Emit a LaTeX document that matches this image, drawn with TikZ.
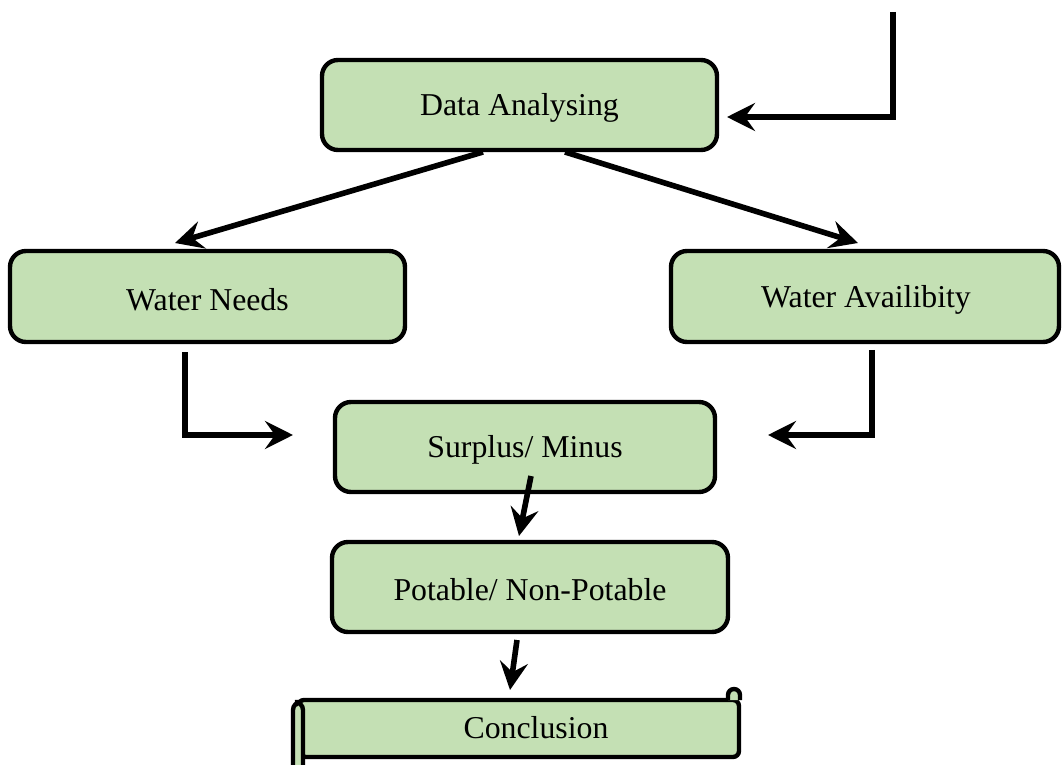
\documentclass[tikz,border=0pt]{standalone}
\usepackage{fontspec}
\setmainfont{Liberation Serif}
\usetikzlibrary{arrows.meta}
\definecolor{boxgreen}{HTML}{C4E0B4}
\tikzset{
  px/.style={x=0.5pt,y=-0.5pt},
  flowbox/.style={draw=black,line width=2.2pt,fill=boxgreen,rounded corners=8pt},
  lbl/.style={font=\fontsize{15.9}{19}\selectfont,inner sep=0pt},
  conn/.style={line width=2.8pt,-{Stealth[length=14pt,width=14pt,inset=5pt]}},
}
\begin{document}
\begin{tikzpicture}[px]
\useasboundingbox (0,0) rectangle (1062,765);
% boxes
\draw[flowbox] (322,60) rectangle (717,150);
\node[lbl] (da) at (519.5,108) {Data Analysing};
\coordinate (daBL) at (483,152);
\coordinate (daBR) at (565,152);

\draw[flowbox] (10,251) rectangle (405,342);
\node[lbl] (wn) at (207.5,300) {Water Needs};
\draw[flowbox] (671,251) rectangle (1059,342);
\node[lbl] (wa) at (866,300) {Water Availibity};

\draw[flowbox] (335,402) rectangle (715,492);
\node[lbl] (sm) at (525,450) {Surplus/ Minus};
\draw[flowbox] (332,542) rectangle (728,632);
\node[lbl] (pn) at (530,590) {Potable/ Non-Potable};

% scroll
\draw[line width=2.2pt,fill=boxgreen,rounded corners=3pt]
  (298,700) -- (739,700) -- (739,757) -- (300,757) -- cycle;
\draw[line width=2.2pt,fill=boxgreen,rounded corners=4pt]
  (293,770) -- (293,702) -- (303,702) -- (303,770);
\draw[line width=2.2pt,fill=boxgreen] (728,700) -- (728,695) arc (180:360:6) -- (740,700);
\fill (297,705) circle (1.5);
\node[lbl] (cc) at (536,728) {Conclusion};

% connectors
\coordinate (t1) at (893,12);
\coordinate (t2) at (893,117);
\draw[conn] (t1) -- (t2) -- (727,117);

\draw[conn] (daBL) -- (175,243);
\draw[conn] (daBR) -- (858,243);

\coordinate (w1) at (185,352);
\draw[conn] (w1) |- (293,435);
\coordinate (w2) at (872,350);
\draw[conn] (w2) |- (768,435);

\coordinate (s1) at (531,476);
\draw[conn] (s1) -- (519,536);
\coordinate (p1) at (517,640);
\draw[conn] (p1) -- (510,690);
\end{tikzpicture}
\end{document}
